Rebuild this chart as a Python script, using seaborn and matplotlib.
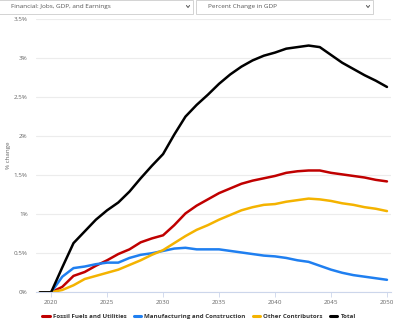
import matplotlib
matplotlib.use("Agg")
import matplotlib.pyplot as plt
from matplotlib.patches import Rectangle
from matplotlib.lines import Line2D
import numpy as np
import pandas as pd
import seaborn as sns

years = list(range(2019, 2051))

fossil_fuels = [0.00, 0.00, 0.07, 0.21, 0.26, 0.34, 0.41, 0.49, 0.55, 0.64, 0.69, 0.73,
                0.86, 1.01, 1.11, 1.19, 1.27, 1.33, 1.39, 1.43, 1.46, 1.49, 1.53, 1.55,
                1.56, 1.56, 1.53, 1.51, 1.49, 1.47, 1.44, 1.42]
manufacturing = [0.00, 0.00, 0.20, 0.31, 0.33, 0.36, 0.38, 0.38, 0.44, 0.48, 0.50, 0.53,
                 0.56, 0.57, 0.55, 0.55, 0.55, 0.53, 0.51, 0.49, 0.47, 0.46, 0.44, 0.41,
                 0.39, 0.34, 0.29, 0.25, 0.22, 0.20, 0.18, 0.16]
other = [0.00, 0.00, 0.03, 0.09, 0.17, 0.21, 0.25, 0.29, 0.35, 0.41, 0.48, 0.54,
         0.63, 0.72, 0.80, 0.86, 0.93, 0.99, 1.05, 1.09, 1.12, 1.13, 1.16, 1.18,
         1.20, 1.19, 1.17, 1.14, 1.12, 1.09, 1.07, 1.04]
total = [0.00, 0.00, 0.32, 0.63, 0.78, 0.93, 1.05, 1.15, 1.29, 1.46, 1.62, 1.77,
         2.02, 2.25, 2.40, 2.53, 2.67, 2.79, 2.89, 2.97, 3.03, 3.07, 3.12, 3.14,
         3.16, 3.14, 3.04, 2.94, 2.86, 2.78, 2.71, 2.63]

series_names = ["Fossil Fuels and Utilities", "Manufacturing and Construction",
                "Other Contributors", "Total"]
series_colors = ["#c00000", "#1f7ff0", "#f4b300", "#000000"]
y_ticks = [0, 0.5, 1, 1.5, 2, 2.5, 3, 3.5]
y_tick_labels = ["0%", "0.5%", "1%", "1.5%", "2%", "2.5%", "3%", "3.5%"]
x_ticks = [2020, 2025, 2030, 2035, 2040, 2045, 2050]

df = pd.DataFrame({
    "year": years * 4,
    "value": fossil_fuels + manufacturing + other + total,
    "series": sum([[n] * len(years) for n in series_names], []),
})

sns.set_theme(style="white")
plt.rcParams["font.family"] = ["Open Sans", "DejaVu Sans"]

W, H = 400, 329
fig = plt.figure(figsize=(W / 100, H / 100), dpi=100)
fig.patch.set_facecolor("white")

ax = fig.add_axes([36 / W, 1 - 292.3 / H, (391 - 36) / W, (292.3 - 19) / H])
sns.lineplot(data=df, x="year", y="value", hue="series", hue_order=series_names,
             palette=series_colors, linewidth=1.8, ax=ax, legend=False,
             estimator=None, sort=False)

ax.set_xlim(2018.65, 2050.36)
ax.set_ylim(0, 3.5)
ax.set_yticks(y_ticks)
ax.set_yticklabels(y_tick_labels)
ax.set_xticks(x_ticks)
ax.set_xticklabels([str(t) for t in x_ticks])
ax.grid(axis="y", color="#ececec", linewidth=0.8)
ax.grid(axis="x", visible=False)
ax.set_axisbelow(True)
for s in ["left", "right", "top"]:
    ax.spines[s].set_visible(False)
ax.spines["bottom"].set_color("#ccd6eb")
ax.spines["bottom"].set_linewidth(0.8)
ax.tick_params(axis="y", length=0, pad=6, labelsize=4.5, labelcolor="#666666")
ax.tick_params(axis="x", length=3.5, width=0.6, color="#ccd6eb", pad=2,
               labelsize=4.5, labelcolor="#666666", bottom=True)
ax.set_xlabel("")
ax.set_ylabel("% change", fontsize=4.5, color="#666666")
ax.yaxis.set_label_coords(-25 / 355, 0.5)

# legend below the plot
handles = [Line2D([0], [0], color=c, linewidth=2.2) for c in series_colors]
leg = fig.legend(handles, series_names, loc="center", bbox_to_anchor=(199 / W, 1 - 316 / H),
                 ncol=4, frameon=False, prop={"size": 4.4, "weight": "bold"},
                 handlelength=1.2, handletextpad=0.5, columnspacing=1.2)
for t in leg.get_texts():
    t.set_color("#333333")

# selector boxes above the chart
def selector(x0, x1, label):
    fig.add_artist(Rectangle((x0 / W, 1 - 14 / H), (x1 - x0) / W, 14 / H,
                             transform=fig.transFigure, facecolor="white",
                             edgecolor="#cccccc", linewidth=0.6))
    fig.text((x0 + 12) / W, 1 - 6.5 / H, label, fontsize=4.6, color="#555555",
             va="center", ha="left")
    cx, cy = (x1 - 5) / W, 1 - 6.5 / H
    fig.add_artist(Line2D([cx - 1.6 / W, cx, cx + 1.6 / W],
                          [cy + 1.0 / H, cy - 1.0 / H, cy + 1.0 / H],
                          transform=fig.transFigure, color="#555555", linewidth=0.7))

selector(-1, 193, "Financial: Jobs, GDP, and Earnings")
selector(196, 373, "Percent Change in GDP")

fig.savefig("out.png", dpi=100)
